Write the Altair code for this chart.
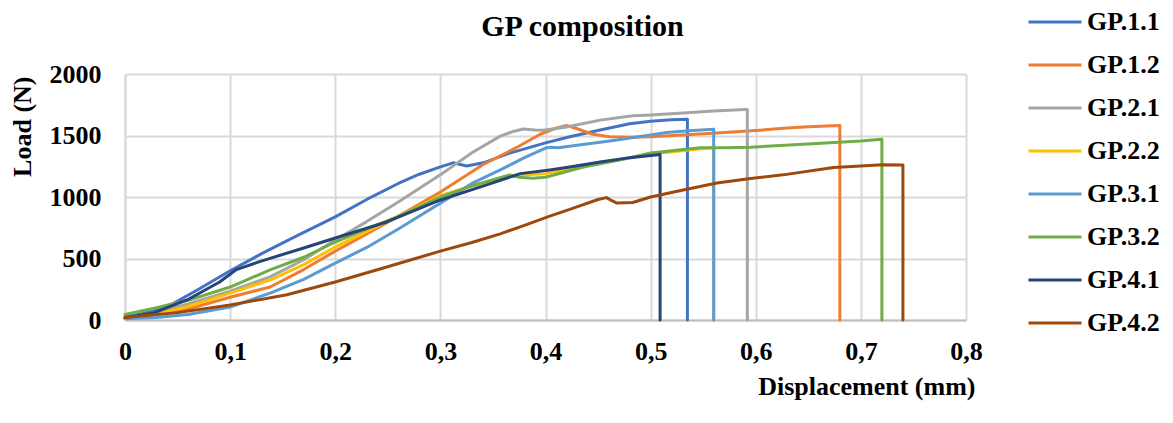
import altair as alt
import pandas as pd

SERIES = ["GP.1.1", "GP.1.2", "GP.2.1", "GP.2.2", "GP.3.1", "GP.3.2", "GP.4.1", "GP.4.2"]
COLORS = ["#4472C4", "#ED7D31", "#A5A5A5", "#FFC000", "#5B9BD5", "#70AD47", "#264478", "#9E480E"]

X_TICKS = [0, 0.1, 0.2, 0.3, 0.4, 0.5, 0.6, 0.7, 0.8]
Y_TICKS = [0, 500, 1000, 1500, 2000]

GP11_X = [0, 0.02, 0.045, 0.07, 0.1, 0.13, 0.16, 0.2, 0.23, 0.26, 0.28, 0.3, 0.312, 0.325, 0.341, 0.366, 0.4, 0.423, 0.452, 0.48, 0.5, 0.52, 0.535, 0.535]
GP11_Y = [20, 60, 130, 250, 400, 540, 670, 838, 980, 1110, 1185, 1245, 1278, 1252, 1278, 1357, 1440, 1490, 1545, 1595, 1615, 1628, 1632, 0]

GP12_X = [0, 0.03, 0.06, 0.1, 0.138, 0.17, 0.2, 0.23, 0.259, 0.3, 0.34, 0.373, 0.395, 0.41, 0.42, 0.43, 0.445, 0.461, 0.48, 0.5, 0.53, 0.563, 0.6, 0.626, 0.65, 0.68, 0.68]
GP12_Y = [15, 45, 90, 185, 268, 410, 560, 700, 838, 1040, 1260, 1405, 1510, 1560, 1582, 1555, 1510, 1490, 1485, 1490, 1505, 1520, 1540, 1558, 1572, 1582, 0]

GP21_X = [0, 0.03, 0.06, 0.1, 0.138, 0.17, 0.2, 0.23, 0.26, 0.3, 0.33, 0.357, 0.37, 0.379, 0.39, 0.398, 0.42, 0.452, 0.483, 0.5, 0.531, 0.56, 0.59, 0.592, 0.592]
GP21_Y = [20, 60, 130, 235, 350, 490, 650, 800, 960, 1180, 1360, 1495, 1535, 1553, 1545, 1542, 1569, 1625, 1660, 1667, 1683, 1700, 1712, 1712, 0]

GP22_X = [0, 0.03, 0.06, 0.1, 0.138, 0.17, 0.2, 0.23, 0.259, 0.3, 0.33, 0.36, 0.38, 0.4, 0.436, 0.45, 0.5, 0.55, 0.56, 0.56]
GP22_Y = [15, 50, 110, 219, 325, 450, 594, 720, 838, 1010, 1090, 1160, 1180, 1190, 1250, 1270, 1350, 1395, 1400, 0]

GP31_X = [0, 0.03, 0.06, 0.1, 0.138, 0.17, 0.2, 0.23, 0.26, 0.3, 0.33, 0.357, 0.38, 0.4, 0.405, 0.412, 0.43, 0.452, 0.468, 0.5, 0.515, 0.54, 0.56, 0.56]
GP31_Y = [10, 20, 45, 105, 219, 330, 463, 590, 740, 950, 1110, 1220, 1320, 1398, 1405, 1400, 1420, 1445, 1464, 1505, 1525, 1540, 1550, 0]

GP32_X = [0, 0.03, 0.06, 0.1, 0.138, 0.17, 0.2, 0.23, 0.259, 0.3, 0.33, 0.366, 0.375, 0.388, 0.4, 0.436, 0.47, 0.5, 0.547, 0.57, 0.595, 0.658, 0.7, 0.72, 0.72]
GP32_Y = [45, 100, 160, 268, 407, 510, 634, 740, 838, 1000, 1090, 1179, 1160, 1152, 1160, 1244, 1300, 1357, 1400, 1400, 1405, 1435, 1455, 1470, 0]

GP41_X = [0, 0.027, 0.059, 0.09, 0.106, 0.128, 0.17, 0.2, 0.249, 0.3, 0.344, 0.376, 0.404, 0.423, 0.452, 0.48, 0.509, 0.509]
GP41_Y = [20, 57, 163, 309, 410, 475, 585, 667, 797, 976, 1098, 1190, 1220, 1244, 1285, 1320, 1345, 0]

GP42_X = [0, 0.05, 0.1, 0.154, 0.2, 0.249, 0.3, 0.33, 0.357, 0.38, 0.404, 0.423, 0.45, 0.458, 0.462, 0.468, 0.483, 0.5, 0.531, 0.563, 0.595, 0.626, 0.674, 0.721, 0.74, 0.74]
GP42_Y = [20, 60, 122, 205, 309, 431, 560, 630, 700, 770, 845, 900, 980, 995, 975, 951, 955, 1000, 1057, 1114, 1150, 1180, 1240, 1262, 1260, 0]

ALL_X = [GP11_X, GP12_X, GP21_X, GP22_X, GP31_X, GP32_X, GP41_X, GP42_X]
ALL_Y = [GP11_Y, GP12_Y, GP21_Y, GP22_Y, GP31_Y, GP32_Y, GP41_Y, GP42_Y]

rows = []
for name, xs, ys in zip(SERIES, ALL_X, ALL_Y):
    for i, (xv, yv) in enumerate(zip(xs, ys)):
        rows.append({"series": name, "x": xv, "y": yv, "i": i})
df = pd.DataFrame(rows)

FONT = "Liberation Serif"

chart = alt.Chart(df).mark_line(strokeWidth=3, strokeJoin="round", strokeCap="round").encode(
    x=alt.X("x:Q",
            scale=alt.Scale(domain=[0, 0.8], nice=False, zero=True),
            axis=alt.Axis(values=X_TICKS,
                          labelExpr="replace(format(datum.value, '.1~f'), '.', ',')",
                          labelFlush=False,
                          title="Displacement (mm)",
                          titleAnchor="end", titleAlign="right", titleBaseline="top",
                          titleX=850, titleY=53,
                          labelPadding=18, ticks=False,
                          domainColor="#bfbfbf", domainWidth=2,
                          gridColor="#d9d9d9", gridWidth=2)),
    y=alt.Y("y:Q",
            scale=alt.Scale(domain=[0, 2000], nice=False),
            axis=alt.Axis(values=Y_TICKS, format="d",
                          labelFlush=False,
                          title="Load (N)",
                          titleAngle=270, titleAlign="right", titleBaseline="middle",
                          titleX=-103, titleY=2,
                          labelPadding=24, ticks=False,
                          domainColor="#d9d9d9", domainWidth=2,
                          gridColor="#d9d9d9", gridWidth=2)),
    color=alt.Color("series:N",
                    scale=alt.Scale(domain=SERIES, range=COLORS),
                    legend=alt.Legend(title=None, orient="none", legendX=902, legendY=-80,
                                      symbolType="stroke", symbolSize=2809, symbolStrokeWidth=3,
                                      rowPadding=2, padding=0, labelOffset=4)),
    order=alt.Order("i:Q"),
).properties(
    width=841, height=246,
    autosize=alt.AutoSizeParams(type="none"),
    padding={"left": 117, "top": 66, "right": 195, "bottom": 90},
    title=alt.TitleParams("GP composition", font=FONT, fontSize=30, fontWeight="bold",
                          anchor="middle", frame="group", dx=37, offset=-48, color="black"),
).configure_view(stroke=None).configure_axis(
    labelFont=FONT, labelFontSize=26, labelFontWeight="bold", labelColor="black",
    titleFont=FONT, titleFontSize=26, titleFontWeight="bold", titleColor="black",
).configure_legend(
    labelFont=FONT, labelFontSize=26, labelFontWeight="bold", labelColor="black",
)

chart.save("out.html", embed_options={"renderer": "svg", "actions": False})
